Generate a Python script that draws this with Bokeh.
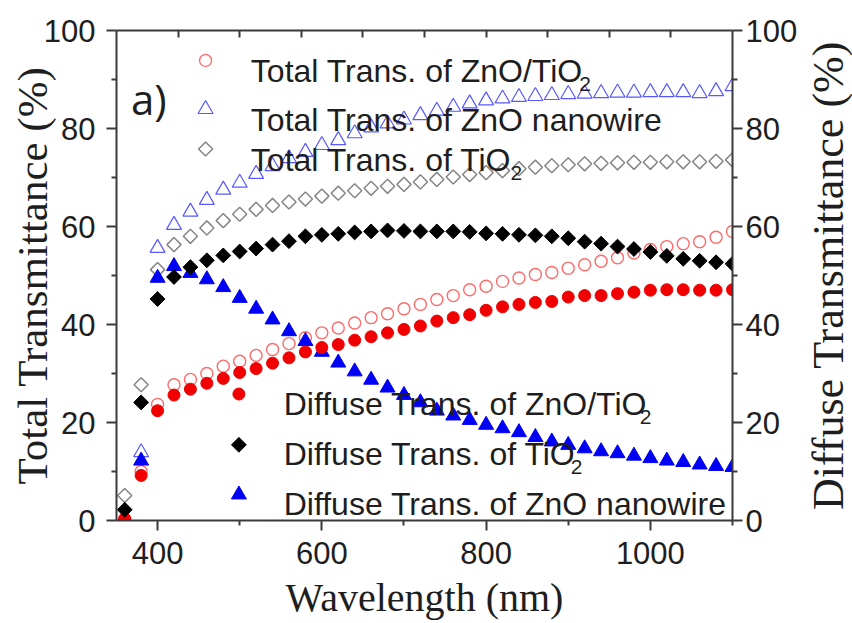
import numpy as np
from bokeh.plotting import figure
from bokeh.layouts import row
from bokeh.models import LinearAxis, FixedTicker, Label
from bokeh.embed import file_html
from bokeh.resources import INLINE

# ---------------- data ----------------
wavelength = [360, 380, 400, 420, 440, 460, 480, 500, 520, 540,
              560, 580, 600, 620, 640, 660, 680, 700, 720, 740,
              760, 780, 800, 820, 840, 860, 880, 900, 920, 940,
              960, 980, 1000, 1020, 1040, 1060, 1080, 1100]

total_zno_tio2 = [0.3, 10.0, 23.7, 27.7, 28.8, 30.0, 31.5, 32.5, 33.7, 34.9,
                  36.1, 37.3, 38.3, 39.3, 40.3, 41.4, 42.2, 43.2, 44.1, 45.1,
                  45.9, 47.1, 47.8, 48.8, 49.5, 50.2, 50.6, 51.5, 52.2, 52.9,
                  53.6, 54.6, 55.3, 55.9, 56.5, 56.9, 57.8, 59.0]
total_zno_nw = [0.5, 13.9, 55.6, 60.3, 63.0, 65.4, 67.5, 68.9, 70.7, 72.3,
                73.9, 75.2, 76.6, 77.6, 79.0, 80.2, 81.0, 81.8, 82.7, 83.6,
                84.4, 85.1, 85.7, 86.1, 86.4, 86.6, 86.8, 87.0, 87.1, 87.2,
                87.3, 87.3, 87.4, 87.4, 87.4, 87.2, 87.6, 88.6]
total_tio2 = [5.1, 27.7, 51.2, 56.3, 58.0, 59.7, 61.2, 62.5, 63.5, 64.3,
              65.0, 65.6, 66.2, 66.8, 67.3, 67.8, 68.2, 68.6, 69.1, 69.6,
              70.1, 70.6, 71.0, 71.4, 71.8, 72.1, 72.4, 72.6, 72.8, 72.9,
              73.0, 73.1, 73.1, 73.2, 73.2, 73.2, 73.3, 73.6]
diffuse_zno_tio2 = [0.3, 9.2, 22.4, 25.6, 26.8, 28.0, 29.0, 30.2, 31.0, 32.1,
                    33.2, 34.4, 35.3, 35.9, 36.8, 37.5, 38.3, 39.0, 39.7, 40.7,
                    41.4, 42.0, 42.9, 43.6, 44.1, 44.5, 44.7, 45.6, 45.9, 45.9,
                    46.3, 46.6, 47.0, 47.1, 47.1, 47.0, 47.0, 47.1]
diffuse_tio2 = [2.2, 24.1, 45.2, 49.7, 51.7, 53.1, 54.1, 54.9, 55.5, 56.3,
                57.0, 58.0, 58.3, 58.5, 58.8, 59.0, 59.2, 59.1, 59.0, 59.0,
                59.0, 58.9, 58.6, 58.5, 58.3, 58.2, 58.0, 57.6, 56.9, 56.5,
                55.9, 55.4, 54.8, 54.0, 53.4, 53.0, 52.7, 52.4]
diffuse_zno_nw = [0.5, 12.2, 49.5, 51.9, 50.5, 49.2, 47.6, 45.4, 43.2, 41.0,
                  38.6, 36.6, 34.4, 32.2, 30.4, 28.7, 27.1, 25.6, 24.1, 22.4,
                  21.4, 20.5, 19.5, 18.8, 18.0, 17.0, 16.1, 15.4, 14.7, 14.1,
                  13.7, 13.2, 12.7, 12.2, 11.9, 11.4, 11.1, 10.9]

x_major = [400, 600, 800, 1000]
x_minor = [500, 700, 900, 1100]
y_major = [0, 20, 40, 60, 80, 100]
y_minor = [10, 30, 50, 70, 90]
top_ticks = [425, 500, 575, 650, 725, 800, 875, 950, 1025]

x_title = "Wavelength (nm)"
y_title_left = "Total Transmittance (%)"
y_title_right = "Diffuse Transmittance (%)"
panel_tag = "a)"

legend_top = [("Total Trans. of ZnO/TiO", "2"),
              ("Total Trans. of ZnO nanowire", ""),
              ("Total Trans. of TiO", "2")]
legend_bottom = [("Diffuse Trans. of ZnO/TiO", "2"),
                 ("Diffuse Trans. of TiO", "2"),
                 ("Diffuse Trans. of ZnO nanowire", "")]

# ---------------- layout / style ----------------
X_START, X_END = 350, 1100
Y_START, Y_END = 0, 100
W, H = 800, 622
BL, BR, BT, BB = 116, 65, 30, 100
FRAME_W = W - BL - BR
FRAME_H = H - BT - BB
W2 = 52   # strip on the right carrying the right-hand axis title
BL2 = 50

def dx(px):
    return X_START + px * (X_END - X_START) / FRAME_W

def dy(py):
    return Y_END - py * (Y_END - Y_START) / FRAME_H

ARIAL_W = {'T': 611, 'o': 556, 't': 278, 'a': 556, 'l': 222, ' ': 278, 'r': 333,
           'n': 556, 's': 500, '.': 278, 'f': 278, 'Z': 611, 'O': 778, '/': 278,
           'i': 222, 'w': 722, 'e': 556, 'D': 722, 'u': 556}

def text_w(s, size):
    # advance widths with an empirical factor for kerning in the rendered font
    return sum(ARIAL_W.get(c, 556) for c in s) / 1000.0 * size * 0.974

SANS = "Liberation Sans"
SERIF = "Liberation Serif"
TXT = "#1e1e1e"
AX = "#3a3a3a"

RED_OPEN = "#ff6a6a"
RED = "#f00000"
BLUE_OPEN = "#5858ff"
BLUE = "#0000f5"
GREY = "#858585"
BLACK = "#000000"

p = figure(width=W, height=H, x_range=(X_START, X_END), y_range=(Y_START, Y_END),
           output_backend="svg", toolbar_location=None,
           min_border_left=BL, min_border_right=BR, min_border_top=BT, min_border_bottom=BB)
p.grid.visible = False
p.outline_line_color = None
p.background_fill_color = "white"
p.border_fill_color = "white"

def style_axis(ax, major, minor, label_size="31px", standoff=6, tin=0, tout=10, min_in=0, min_out=5):
    ax.ticker = FixedTicker(ticks=major, minor_ticks=minor)
    ax.axis_line_color = AX
    ax.axis_line_width = 2
    ax.major_tick_line_color = AX
    ax.major_tick_line_width = 2
    ax.minor_tick_line_color = AX
    ax.minor_tick_line_width = 2
    ax.major_tick_in = tin
    ax.major_tick_out = tout
    ax.minor_tick_in = min_in
    ax.minor_tick_out = min_out
    ax.major_label_text_font = SANS
    ax.major_label_text_font_size = label_size
    ax.major_label_text_color = TXT
    ax.major_label_standoff = standoff

def style_title(ax, text, size, standoff):
    ax.axis_label = text
    ax.axis_label_text_font = SERIF
    ax.axis_label_text_font_size = size
    ax.axis_label_text_font_style = "normal"
    ax.axis_label_text_color = TXT
    ax.axis_label_standoff = standoff

xaxis = p.xaxis[0]
yaxis = p.yaxis[0]
style_axis(xaxis, x_major, x_minor, standoff=11)
style_axis(yaxis, y_major, y_minor, standoff=11)
style_title(xaxis, x_title, "40px", 8)
style_title(yaxis, y_title_left, "43px", -15)

right_axis = LinearAxis()
style_axis(right_axis, y_major, y_minor, standoff=3)
p.add_layout(right_axis, "right")

top_axis = LinearAxis()
style_axis(top_axis, [], top_ticks, standoff=0, tin=0, tout=0, min_in=7, min_out=0)
p.add_layout(top_axis, "above")

# ---------------- data marks ----------------
p.scatter(wavelength, total_zno_tio2, marker="circle", size=12, fill_color=None,
          line_color=RED_OPEN, line_width=1.4)
p.scatter(wavelength, total_zno_nw, marker="triangle", size=15, fill_color=None,
          line_color=BLUE_OPEN, line_width=1.2)
p.scatter(wavelength, total_tio2, marker="square", angle=np.pi / 4, size=10, fill_color=None,
          line_color=GREY, line_width=1.5)
p.scatter(wavelength, diffuse_zno_nw, marker="triangle", size=15, fill_color=BLUE,
          line_color=BLUE, line_width=1)
p.scatter(wavelength, diffuse_zno_tio2, marker="circle", size=12, fill_color=RED,
          line_color=RED, line_width=1)
p.scatter(wavelength, diffuse_tio2, marker="square", angle=np.pi / 4, size=10.5,
          fill_color=BLACK, line_color=BLACK, line_width=1)

# ---------------- legends (manual, to allow subscripts) ----------------
LEG_SIZE = 32
SUB_SIZE = 21

def legend_block(entries, styles, mark_x, text_x, baselines, centers):
    for (main, sub), st, base, cen in zip(entries, styles, baselines, centers):
        p.scatter([dx(mark_x)], [dy(cen)], **st)
        p.add_layout(Label(x=dx(text_x), y=dy(base), text=main, text_font=SANS,
                           text_font_size=f"{LEG_SIZE}px", text_color=TXT,
                           text_align="left", text_baseline="alphabetic"))
        if sub:
            sx = text_x + text_w(main, LEG_SIZE) + 1
            p.add_layout(Label(x=dx(sx), y=dy(base + 13), text=sub, text_font=SANS,
                               text_font_size=f"{SUB_SIZE}px", text_color=TXT,
                               text_align="left", text_baseline="alphabetic"))

top_styles = [
    dict(marker="circle", size=12, fill_color=None, line_color=RED_OPEN, line_width=1.4),
    dict(marker="triangle", size=15, fill_color=None, line_color=BLUE_OPEN, line_width=1.2),
    dict(marker="square", angle=np.pi / 4, size=10, fill_color=None, line_color=GREY, line_width=1.5),
]
bottom_styles = [
    dict(marker="circle", size=12, fill_color=RED, line_color=RED, line_width=1),
    dict(marker="square", angle=np.pi / 4, size=10.5, fill_color=BLACK, line_color=BLACK, line_width=1),
    dict(marker="triangle", size=15, fill_color=BLUE, line_color=BLUE, line_width=1),
]
legend_block(legend_top, top_styles, 89.5, 135, [41, 90, 130], [30, 79, 119])
legend_block(legend_bottom, bottom_styles, 123, 168, [375, 425, 475], [365, 416, 466])

# panel tag
p.add_layout(Label(x=dx(14.5), y=dy(68), text=panel_tag, text_font="Open Sans",
                   text_font_size="42px", text_color=TXT, text_align="left",
                   text_baseline="alphabetic"))

# ---------------- right-hand title strip (left axis of a thin figure: reads bottom to top) ----------------
q = figure(width=W2, height=H, x_range=(0, 1), y_range=(Y_START, Y_END),
           output_backend="svg", toolbar_location=None, x_axis_location=None,
           min_border_left=BL2, min_border_right=0, min_border_top=BT, min_border_bottom=BB)
q.grid.visible = False
q.outline_line_color = None
q.background_fill_color = "white"
q.border_fill_color = "white"
qa = q.yaxis[0]
qa.ticker = FixedTicker(ticks=[], minor_ticks=[])
qa.axis_line_color = None
qa.major_tick_in = 0
qa.major_tick_out = 0
qa.minor_tick_in = 0
qa.minor_tick_out = 0
qa.major_label_standoff = 0
style_title(qa, y_title_right, "44px", 0)

layout = row(p, q, spacing=0)
open("out.html", "w").write(file_html(layout, INLINE))
